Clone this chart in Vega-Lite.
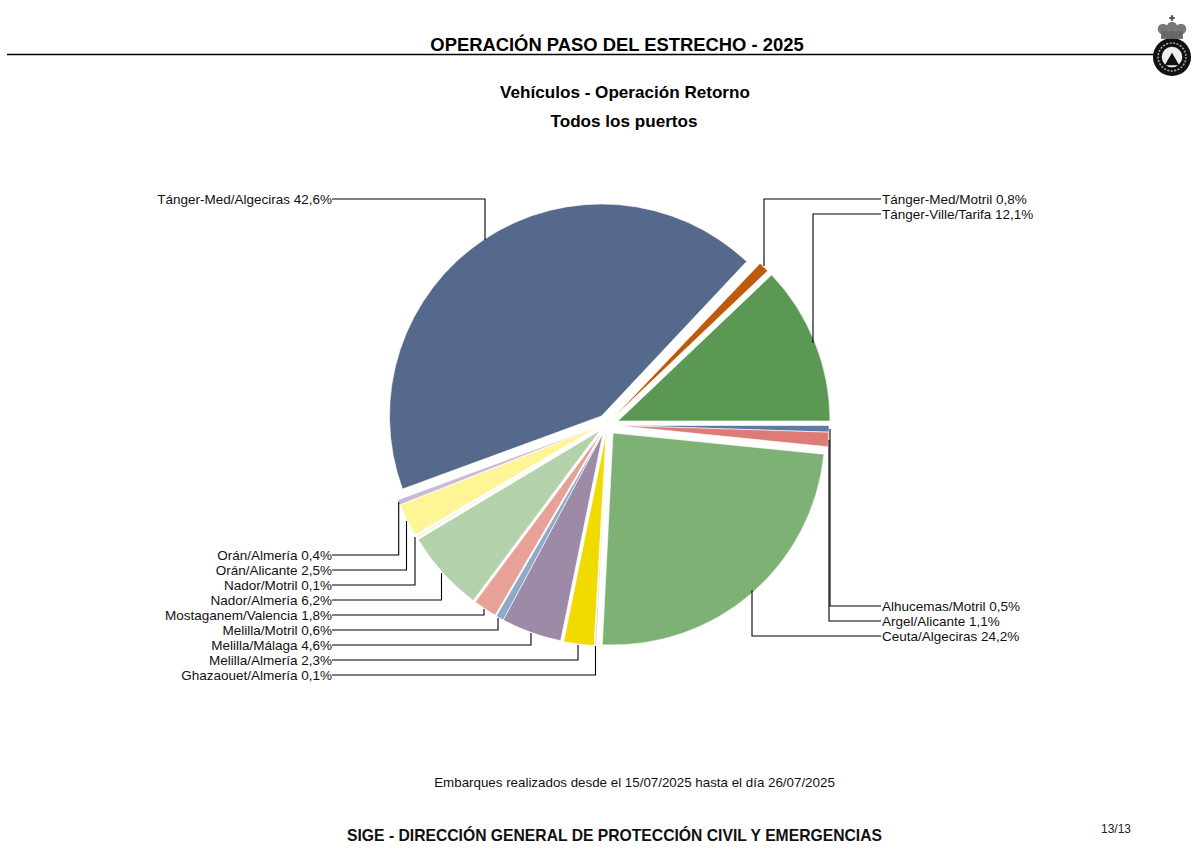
{
"$schema":"https://vega.github.io/schema/vega-lite/v6.json",
"autosize":{"type":"fit","contains":"padding"},
"width":1200,"height":860,"padding":0,"background":"white",
"config":{"view":{"stroke":null}},
"datasets":{
"slices":[
{"route":"Tánger-Med/Motril","share":0.8,"rank":1,"cx":614,"cy":417,"colour":"a"},
{"route":"Tánger-Ville/Tarifa","share":12.1,"rank":2,"cx":618,"cy":421,"colour":"b"},
{"route":"Alhucemas/Motril","share":0.5,"rank":3,"cx":617,"cy":425.5,"colour":"c"},
{"route":"Argel/Alicante","share":1.1,"rank":4,"cx":617,"cy":425.5,"colour":"d"},
{"route":"Ceuta/Algeciras","share":24.2,"rank":5,"cx":613,"cy":433,"colour":"e"},
{"route":"Ghazaouet/Almería","share":0.1,"rank":6,"cx":607,"cy":434,"colour":"f"},
{"route":"Melilla/Almería","share":2.3,"rank":7,"cx":606,"cy":434,"colour":"g"},
{"route":"Melilla/Málaga","share":4.6,"rank":8,"cx":603,"cy":433,"colour":"h"},
{"route":"Melilla/Motril","share":0.6,"rank":9,"cx":603,"cy":433,"colour":"i"},
{"route":"Mostaganem/Valencia","share":1.8,"rank":10,"cx":602,"cy":432,"colour":"j"},
{"route":"Nador/Almería","share":6.2,"rank":11,"cx":600,"cy":430.5,"colour":"k"},
{"route":"Nador/Motril","share":0.1,"rank":12,"cx":598,"cy":429,"colour":"l"},
{"route":"Orán/Alicante","share":2.5,"rank":13,"cx":597.5,"cy":427,"colour":"m"},
{"route":"Orán/Almería","share":0.4,"rank":14,"cx":596.5,"cy":427,"colour":"n"},
{"route":"Tánger-Med/Algeciras","share":42.6,"rank":15,"cx":601.5,"cy":416,"colour":"o"}
],
"leaders":[
{"route":"Tánger-Med/Motril","step":1,"x":764,"y":266},{"route":"Tánger-Med/Motril","step":2,"x":764,"y":199},{"route":"Tánger-Med/Motril","step":3,"x":881,"y":199},
{"route":"Tánger-Ville/Tarifa","step":1,"x":813,"y":343},{"route":"Tánger-Ville/Tarifa","step":2,"x":813,"y":214},{"route":"Tánger-Ville/Tarifa","step":3,"x":881,"y":214},
{"route":"Tánger-Med/Algeciras","step":1,"x":332,"y":199},{"route":"Tánger-Med/Algeciras","step":2,"x":485,"y":199},{"route":"Tánger-Med/Algeciras","step":3,"x":485,"y":240},
{"route":"Alhucemas/Motril","step":1,"x":830,"y":429},{"route":"Alhucemas/Motril","step":2,"x":830,"y":606},{"route":"Alhucemas/Motril","step":3,"x":881,"y":606},
{"route":"Argel/Alicante","step":1,"x":829,"y":440},{"route":"Argel/Alicante","step":2,"x":829,"y":621},{"route":"Argel/Alicante","step":3,"x":881,"y":621},
{"route":"Ceuta/Algeciras","step":1,"x":752,"y":590},{"route":"Ceuta/Algeciras","step":2,"x":752,"y":636},{"route":"Ceuta/Algeciras","step":3,"x":881,"y":636},
{"route":"Orán/Almería","step":1,"x":332,"y":555},{"route":"Orán/Almería","step":2,"x":398.7,"y":555},{"route":"Orán/Almería","step":3,"x":398.7,"y":502},
{"route":"Orán/Alicante","step":1,"x":332,"y":570},{"route":"Orán/Alicante","step":2,"x":406.5,"y":570},{"route":"Orán/Alicante","step":3,"x":406.5,"y":521},
{"route":"Nador/Motril","step":1,"x":332,"y":585},{"route":"Nador/Motril","step":2,"x":415,"y":585},{"route":"Nador/Motril","step":3,"x":415,"y":537},
{"route":"Nador/Almería","step":1,"x":332,"y":600},{"route":"Nador/Almería","step":2,"x":441.5,"y":600},{"route":"Nador/Almería","step":3,"x":441.5,"y":573},
{"route":"Mostaganem/Valencia","step":1,"x":332,"y":615},{"route":"Mostaganem/Valencia","step":2,"x":484,"y":615},{"route":"Mostaganem/Valencia","step":3,"x":484,"y":609},
{"route":"Melilla/Motril","step":1,"x":332,"y":630},{"route":"Melilla/Motril","step":2,"x":498,"y":630},{"route":"Melilla/Motril","step":3,"x":498,"y":618},
{"route":"Melilla/Málaga","step":1,"x":332,"y":645},{"route":"Melilla/Málaga","step":2,"x":531,"y":645},{"route":"Melilla/Málaga","step":3,"x":531,"y":633},
{"route":"Melilla/Almería","step":1,"x":332,"y":660},{"route":"Melilla/Almería","step":2,"x":578,"y":660},{"route":"Melilla/Almería","step":3,"x":578,"y":645},
{"route":"Ghazaouet/Almería","step":1,"x":332,"y":675},{"route":"Ghazaouet/Almería","step":2,"x":595.5,"y":675},{"route":"Ghazaouet/Almería","step":3,"x":595.5,"y":646}
],
"header":[{"route":"Cabecera","step":1,"x":7,"y":54.5},{"route":"Cabecera","step":2,"x":1154,"y":54.5}],
"labelsLeft":[
{"t":"Tánger-Med/Algeciras 42,6%","x":332,"y":199.5},
{"t":"Orán/Almería 0,4%","x":332,"y":555.5},
{"t":"Orán/Alicante 2,5%","x":332,"y":570.5},
{"t":"Nador/Motril 0,1%","x":332,"y":585.5},
{"t":"Nador/Almería 6,2%","x":332,"y":600.5},
{"t":"Mostaganem/Valencia 1,8%","x":332,"y":615.5},
{"t":"Melilla/Motril 0,6%","x":332,"y":630.5},
{"t":"Melilla/Málaga 4,6%","x":332,"y":645.5},
{"t":"Melilla/Almería 2,3%","x":332,"y":660.5},
{"t":"Ghazaouet/Almería 0,1%","x":332,"y":675.5}
],
"labelsRight":[
{"t":"Tánger-Med/Motril 0,8%","x":882,"y":199.5},
{"t":"Tánger-Ville/Tarifa 12,1%","x":882,"y":214.5},
{"t":"Alhucemas/Motril 0,5%","x":882,"y":606.5},
{"t":"Argel/Alicante 1,1%","x":882,"y":621.5},
{"t":"Ceuta/Algeciras 24,2%","x":882,"y":636.5}
]
},
"encoding":{
"x":{"field":"x","type":"quantitative","scale":{"domain":[0,1200],"nice":false,"zero":false},"axis":null},
"y":{"field":"y","type":"quantitative","scale":{"domain":[860,0],"nice":false,"zero":false},"axis":null}
},
"layer":[
{"data":{"name":"slices"},
 "mark":{"type":"arc","outerRadius":212,"stroke":"white","strokeWidth":0.6},
 "encoding":{
  "x":{"field":"cx","type":"quantitative"},
  "y":{"field":"cy","type":"quantitative"},
  "theta":{"field":"share","type":"quantitative","stack":"zero","scale":{"domain":[0,100],"range":[0.76027,7.04346]}},
  "order":{"field":"rank","type":"ordinal"},
  "color":{"field":"colour","type":"nominal","legend":null,"scale":{"domain":["a","b","c","d","e","f","g","h","i","j","k","l","m","n","o"],"range":["#bd5a0b","#5b9853","#5d79a8","#dd7b76","#7eb275","#e3c9a0","#f0da00","#9d8aa6","#8faac8","#e8a196","#b3d2ab","#f3e0c8","#fdf596","#c9b8d6","#54698b"]}}
 }},
{"data":{"name":"leaders"},
 "mark":{"type":"line","stroke":"#000","strokeWidth":1.1},
 "encoding":{"detail":{"field":"route"},"order":{"field":"step","type":"quantitative"}}},
{"data":{"name":"header"},
 "mark":{"type":"line","stroke":"#000","strokeWidth":1.6},
 "encoding":{"detail":{"field":"route"},"order":{"field":"step","type":"quantitative"}}},
{"data":{"name":"labelsLeft"},
 "mark":{"type":"text","align":"right","baseline":"middle","font":"Liberation Sans","fontSize":13.5,"fill":"#111"},
 "encoding":{"text":{"field":"t"}}},
{"data":{"name":"labelsRight"},
 "mark":{"type":"text","align":"left","baseline":"middle","font":"Liberation Sans","fontSize":13.5,"fill":"#111"},
 "encoding":{"text":{"field":"t"}}},
{"data":{"values":[{"t":"OPERACIÓN PASO DEL ESTRECHO - 2025","x":617,"y":45}]},
 "mark":{"type":"text","align":"center","baseline":"middle","font":"Liberation Sans","fontWeight":"bold","fontSize":18.4,"fill":"#000"},
 "encoding":{"text":{"field":"t"}}},
{"data":{"values":[{"t":"Vehículos - Operación Retorno","x":625,"y":93},{"t":"Todos los puertos","x":624,"y":122}]},
 "mark":{"type":"text","align":"center","baseline":"middle","font":"Liberation Sans","fontWeight":"bold","fontSize":17.1,"fill":"#000"},
 "encoding":{"text":{"field":"t"}}},
{"data":{"values":[{"t":"Embarques realizados desde el 15/07/2025 hasta el día 26/07/2025","x":634.5,"y":782.5}]},
 "mark":{"type":"text","align":"center","baseline":"middle","font":"Liberation Sans","fontSize":13.35,"fill":"#111"},
 "encoding":{"text":{"field":"t"}}},
{"data":{"values":[{"t":"SIGE - DIRECCIÓN GENERAL DE PROTECCIÓN CIVIL Y EMERGENCIAS","x":614.5,"y":836}]},
 "mark":{"type":"text","align":"center","baseline":"middle","font":"Liberation Sans","fontWeight":"bold","fontSize":15.7,"fill":"#111"},
 "encoding":{"text":{"field":"t"}}},
{"data":{"values":[{"t":"13/13","x":1116,"y":829}]},
 "mark":{"type":"text","align":"center","baseline":"middle","font":"Liberation Sans","fontSize":12,"fill":"#222"},
 "encoding":{"text":{"field":"t"}}},
{"data":{"values":[{"x":1172,"y":57}]},
 "mark":{"type":"point","shape":"circle","filled":true,"fill":"#111","size":1450,"opacity":1}},
{"data":{"values":[{"x":1172,"y":57}]},
 "mark":{"type":"point","shape":"circle","filled":false,"stroke":"#aaa","strokeWidth":1.5,"strokeDash":[2,1.5],"size":780,"opacity":1}},
{"data":{"values":[{"x":1172,"y":57}]},
 "mark":{"type":"point","shape":"circle","filled":true,"fill":"#eee","size":420,"opacity":1}},
{"data":{"values":[{"x":1172,"y":59}]},
 "mark":{"type":"point","shape":"triangle-up","filled":true,"fill":"#111","size":210,"opacity":1}},
{"data":{"values":[{"x":1163,"y":29},{"x":1172,"y":27},{"x":1181,"y":29}]},
 "mark":{"type":"point","shape":"circle","filled":true,"fill":"#777","size":110,"opacity":1}},
{"data":{"values":[{"x":1165,"y":35},{"x":1172,"y":35},{"x":1179,"y":35}]},
 "mark":{"type":"point","shape":"square","filled":true,"fill":"#666","size":60,"opacity":1}},
{"data":{"values":[{"x":1172,"y":18}]},
 "mark":{"type":"point","shape":"cross","filled":true,"fill":"#555","size":30,"opacity":1}}
]
}
